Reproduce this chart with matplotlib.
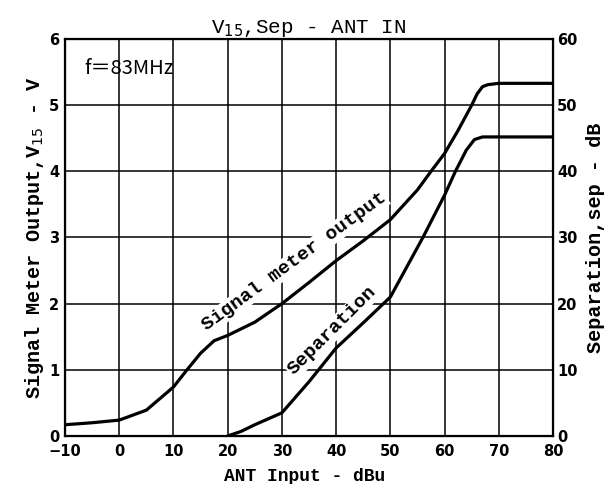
import matplotlib
matplotlib.use("Agg")
import matplotlib.pyplot as plt

# Signal meter output V15 (left axis, V)
sig_x = [-10, -5, 0, 5, 10, 12.5, 15, 17.5, 20, 25, 30, 35, 40, 45, 50,
         55, 57.5, 60, 62.5, 65, 66, 67, 68, 70, 80]
sig_v = [0.17, 0.2, 0.24, 0.39, 0.74, 1.0, 1.25, 1.44, 1.52, 1.72, 2.0, 2.32,
         2.65, 2.95, 3.27, 3.72, 4.0, 4.27, 4.62, 5.0, 5.17, 5.28, 5.31, 5.33, 5.33]

# Separation (right axis, dB)
sep_x = [20, 22.5, 25, 27.5, 30, 35, 40, 45, 50, 53, 56, 58, 60, 62, 64,
         65.5, 67, 70, 80]
sep_db = [0, 0.7, 1.7, 2.6, 3.5, 8.2, 13.3, 17.1, 21, 25.5, 30, 33.2, 36.4,
          40, 43.2, 44.8, 45.2, 45.2, 45.2]

x_ticks = [-10, 0, 10, 20, 30, 40, 50, 60, 70, 80]
x_labels = ["\u221210", "0", "10", "20", "30", "40", "50", "60", "70", "80"]
v_ticks = [0, 1, 2, 3, 4, 5, 6]
sep_ticks = [0, 10, 20, 30, 40, 50, 60]

mono = "Liberation Mono"
tick_font = {"family": "DejaVu Sans", "weight": "bold", "size": 10.5}

fig = plt.figure(figsize=(6.04, 4.84), dpi=100)
ax = fig.add_axes([0.1076, 0.0992, 0.808, 0.8202])

ax.set_xlim(-10, 80)
ax.set_ylim(0, 6)
ax.set_xticks(x_ticks)
ax.set_xticklabels(x_labels, fontdict=tick_font)
ax.set_yticks(v_ticks)
ax.set_yticklabels([str(t) for t in v_ticks], fontdict=tick_font)
ax.tick_params(axis="x", length=0, pad=6)
ax.tick_params(axis="y", length=0, pad=4)
ax.grid(True, color="black", linewidth=1.1)
for s in ax.spines.values():
    s.set_linewidth(1.6)

ax.plot(sig_x, sig_v, color="black", linewidth=2.3, solid_capstyle="round")

ax2 = ax.twinx()
ax2.set_ylim(0, 60)
ax2.set_yticks(sep_ticks)
ax2.set_yticklabels([str(t) for t in sep_ticks], fontdict=tick_font)
ax2.tick_params(length=0, pad=3)
ax2.plot(sep_x, sep_db, color="black", linewidth=2.3, solid_capstyle="round")

ax.set_title("V$_{15}$,Sep - ANT IN", family=mono, fontsize=15, pad=4)
ax.set_xlabel("ANT Input - dBu", family=mono, fontweight="bold", fontsize=13)
ax.xaxis.set_label_coords(0.49, -0.08)
ax.set_ylabel("Signal Meter Output,V$_{15}$ - V", family=mono,
              fontweight="bold", fontsize=14.5, labelpad=2)
ax2.set_ylabel("Separation,sep - dB", family=mono, fontweight="bold",
               fontsize=14.5, labelpad=6)

ax.text(-6.4, 5.55, "f\uff1d83MHz", family=["Noto Sans CJK JP", "DejaVu Sans"],
        fontsize=14.5, va="center", ha="left")
ax.text(32.2, 2.63, "Signal meter output", family=mono, fontweight="bold",
        fontsize=14, rotation=36, ha="center", va="center",
        bbox=dict(facecolor="white", edgecolor="none", pad=1))
ax.text(39.3, 1.59, "Separation", family=mono, fontweight="bold",
        fontsize=14, rotation=45, ha="center", va="center",
        bbox=dict(facecolor="white", edgecolor="none", pad=1))

fig.savefig("out.png", dpi=100)
